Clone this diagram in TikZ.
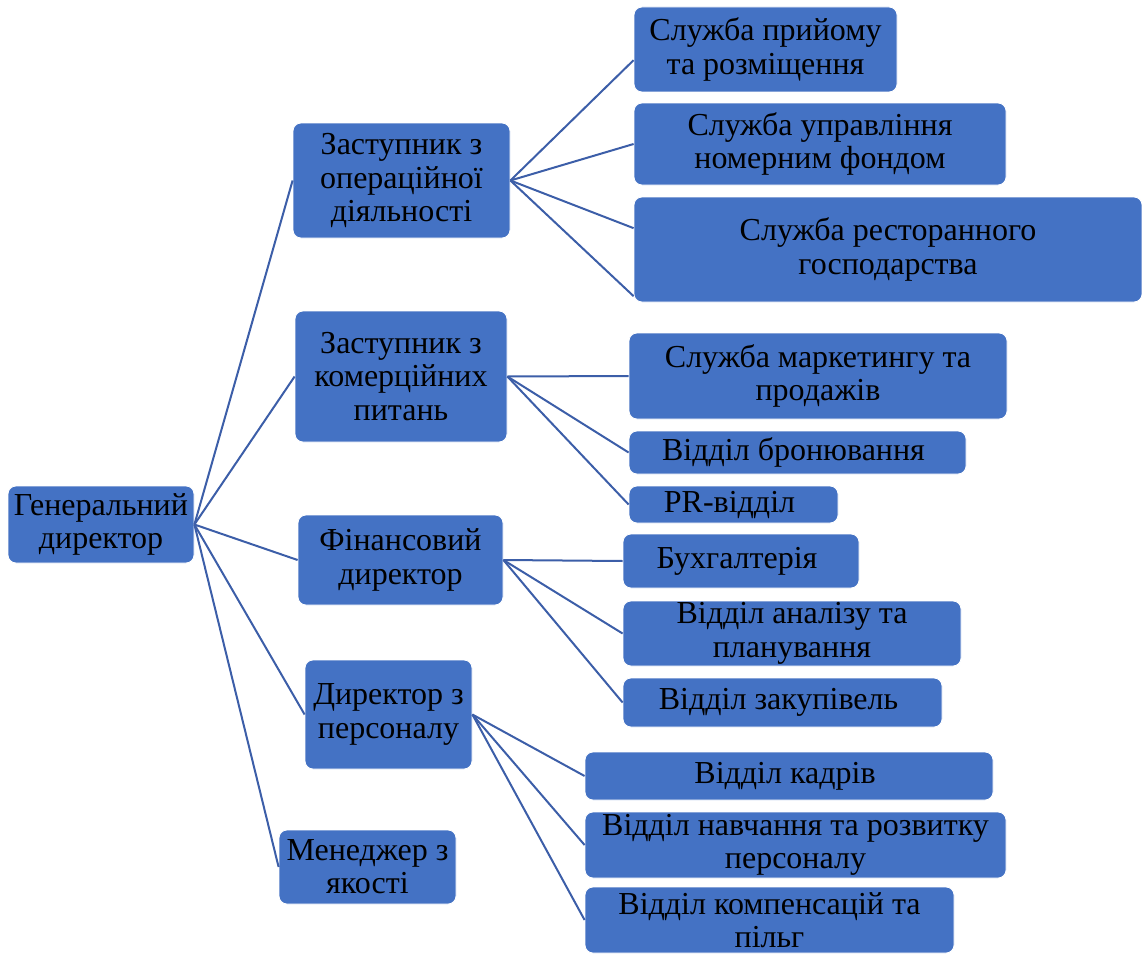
\documentclass[tikz,border=0pt]{standalone}
\usepackage{fontspec}
\setmainfont{Liberation Serif}
\usepackage{xcolor}
\usepackage{tikz}
\usetikzlibrary{positioning}

\definecolor{boxblue}{HTML}{4472C4}
\definecolor{lineblue}{HTML}{3C5EA8}

\begin{document}
\begin{tikzpicture}[
x=0.75pt, y=-0.75pt,
box/.style={
	rectangle,
	rounded corners=6pt,
	draw=white,
	line width=0.6pt,
	fill=boxblue,
	text=black,
	align=center,
	inner sep=0pt,
	font=\fontsize{24}{25}\selectfont
},
link/.style={draw=lineblue, line width=1.5pt}
]

\useasboundingbox (0,0) rectangle (1142,956);

% top of the tree
\node[box, minimum width=139.5pt, minimum height=57.75pt] (gendir) at (101,524.5) {
	Генеральний\\
	директор
};

% deputies and directors
\node[box, minimum width=162.75pt, minimum height=86.25pt] (opdep) at (401.5,180.5) {
	Заступник з\\
	операційної\\
	діяльності
};

\node[box, minimum width=159pt, minimum height=98.25pt] (comdep) at (401,376.5) {
	Заступник з\\
	комерційних\\
	питань
};

\node[box, minimum width=153.75pt, minimum height=67.5pt] (findir) at (400.5,560) {
	Фінансовий\\
	директор
};

\node[box, minimum width=125.25pt, minimum height=81.75pt] (hrdir) at (388.5,714.5) {
	Директор з\\
	персоналу
};

\node[box, minimum width=132.75pt, minimum height=55.5pt] (quality) at (367.5,867) {
	Менеджер з\\
	якості
};

% services
\node[box, minimum width=197.25pt, minimum height=63.75pt] (reception) at (765.5,49.5) {
	Служба прийому\\
	та розміщення
};

\node[box, minimum width=279pt, minimum height=61.5pt] (roomfund) at (820,144) {
	Служба управління\\
	номерним фондом
};

\node[box, minimum width=381pt, minimum height=78.75pt] (restaurant) at (888,249.5) {
	Служба ресторанного\\
	господарства
};

\node[box, minimum width=283.5pt, minimum height=64.5pt] (marketing) at (818,376) {
	Служба маркетингу та\\
	продажів
};

\node[box, minimum width=252.75pt, minimum height=32.25pt] (booking) at (797.5,452.5) {
	Відділ бронювання
};

\node[box, minimum width=156.75pt, minimum height=27.75pt] (pr) at (733.5,504.5) {
	PR-відділ
};

\node[box, minimum width=177pt, minimum height=40.5pt] (accounting) at (741,561) {
	Бухгалтерія
};

\node[box, minimum width=253.5pt, minimum height=48.75pt] (analysis) at (792,633.5) {
	Відділ аналізу та\\
	планування
};

\node[box, minimum width=239.25pt, minimum height=36.75pt] (purchasing) at (782.5,702.5) {
	Відділ закупівель
};

\node[box, minimum width=306pt, minimum height=36pt] (staff) at (789,776) {
	Відділ кадрів
};

\node[box, minimum width=315.75pt, minimum height=49.5pt] (training) at (795.5,845) {
	Відділ навчання та розвитку\\
	персоналу
};

\node[box, minimum width=276.75pt, minimum height=49.5pt] (benefits) at (769.5,920) {
	Відділ компенсацій та\\
	пільг
};

\draw[link] (gendir.east) -- (opdep.west);
\draw[link] (gendir.east) -- (comdep.west);
\draw[link] (gendir.east) -- (findir.west);
\draw[link] (gendir.east) -- (hrdir.west);
\draw[link] (gendir.east) -- (quality.west);

\draw[link] (opdep.east) -- ([yshift=-8pt]reception.west);
\draw[link] (opdep.east) -- (roomfund.west);
\draw[link] (opdep.east) -- ([yshift=16pt]restaurant.west);
\draw[link] (opdep.east) -- ([yshift=-35pt]restaurant.west);

\draw[link] (comdep.east) -- (marketing.west);
\draw[link] (comdep.east) -- (booking.west);
\draw[link] (comdep.east) -- (pr.west);

\draw[link] (findir.east) -- (accounting.west);
\draw[link] (findir.east) -- (analysis.west);
\draw[link] (findir.east) -- (purchasing.west);

\draw[link] (hrdir.east) -- (staff.west);
\draw[link] (hrdir.east) -- (training.west);
\draw[link] (hrdir.east) -- (benefits.west);

\end{tikzpicture}
\end{document}
